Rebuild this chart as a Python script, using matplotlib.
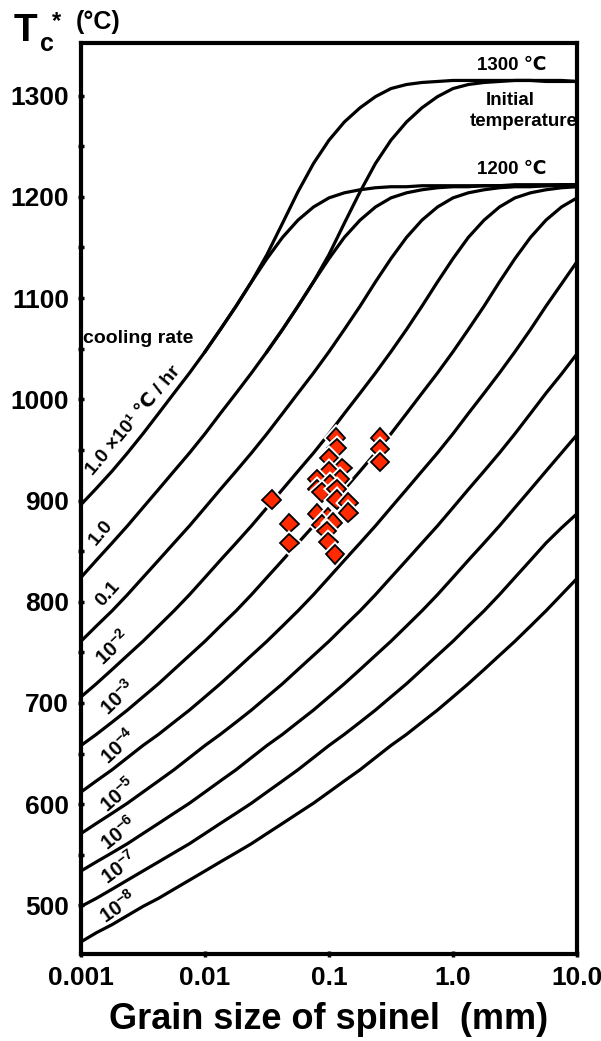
import matplotlib.pyplot as plt
from matplotlib import patheffects
from matplotlib.ticker import NullLocator

# grain sizes (mm) at which each closure-temperature curve was read (1/8 decade apart)
grain = [0.001, 0.00133, 0.00178, 0.00237, 0.00316, 0.00422, 0.00562, 0.0075,
         0.01, 0.0133, 0.0178, 0.0237, 0.0316, 0.0422, 0.0562, 0.075,
         0.1, 0.133, 0.178, 0.237, 0.316, 0.422, 0.562, 0.75,
         1.0, 1.33, 1.78, 2.37, 3.16, 4.22, 5.62, 7.5, 10.0]

# initial temperature 1200 C, one curve per cooling rate (C/hr)
tc_1e1 = [896, 912, 929, 947, 966, 986, 1006, 1026, 1047, 1069,
          1092, 1116, 1139, 1160, 1177, 1190, 1199, 1204, 1207, 1209,
          1210, 1210, 1211, 1211, 1211, 1211, 1211, 1211, 1212, 1212, 1212, 1212, 1212]
tc_1e0 = [824, 841, 858, 875, 893, 911, 929, 947, 966, 986,
          1006, 1026, 1047, 1069, 1092, 1116, 1139, 1160, 1177, 1190,
          1199, 1204, 1207, 1209, 1210, 1210, 1211, 1211, 1211, 1211, 1211, 1212, 1212]
tc_1em1 = [761, 776, 791, 807, 824, 841, 858, 875, 893, 911,
           929, 947, 966, 986, 1006, 1026, 1047, 1069, 1092, 1116,
           1139, 1160, 1177, 1190, 1199, 1204, 1207, 1209, 1210, 1210, 1211, 1211, 1212]
tc_1em2 = [706, 719, 733, 747, 761, 776, 791, 807, 824, 841,
           858, 875, 893, 911, 929, 947, 966, 986, 1006, 1026,
           1047, 1069, 1092, 1116, 1139, 1160, 1177, 1190, 1199, 1204, 1207, 1209, 1210]
tc_1em3 = [658, 669, 681, 693, 706, 719, 733, 747, 761, 776,
           791, 807, 824, 841, 858, 875, 893, 911, 929, 947,
           966, 986, 1006, 1026, 1047, 1069, 1092, 1116, 1139, 1160, 1177, 1190, 1199]
tc_1em4 = [612, 623, 634, 646, 658, 669, 681, 693, 706, 719,
           733, 747, 761, 776, 791, 807, 824, 841, 858, 875,
           893, 911, 929, 947, 966, 986, 1006, 1026, 1047, 1069, 1092, 1114, 1136]
tc_1em5 = [571, 581, 591, 601, 612, 623, 634, 646, 658, 669,
           681, 693, 706, 719, 733, 747, 761, 776, 791, 807,
           824, 841, 858, 875, 893, 911, 929, 947, 966, 986, 1006, 1025, 1045]
tc_1em6 = [534, 543, 552, 561, 571, 581, 591, 601, 612, 623,
           634, 646, 658, 669, 681, 693, 706, 719, 733, 747,
           761, 776, 791, 807, 824, 841, 858, 875, 893, 911, 929, 947, 965]
tc_1em7 = [499, 507, 516, 525, 534, 543, 552, 561, 571, 581,
           591, 601, 612, 623, 634, 646, 658, 669, 681, 693,
           706, 719, 733, 747, 761, 776, 791, 807, 824, 841, 858, 873, 887]
tc_1em8 = [464, 473, 481, 490, 499, 507, 516, 525, 534, 543,
           552, 561, 571, 581, 591, 601, 612, 623, 634, 646,
           658, 669, 681, 693, 706, 719, 733, 747, 761, 776, 791, 807, 823]

# initial temperature 1300 C (only the two fastest rates leave the 1200 curves)
grain_hot1 = grain[8:]
tc_hot_1e1 = [1047, 1069, 1092, 1116, 1143, 1174, 1205, 1233, 1256, 1274,
              1288, 1299, 1307, 1311, 1313, 1314, 1315, 1315, 1315, 1315,
              1315, 1315, 1314, 1314, 1314]
grain_hot2 = grain[12:]
tc_hot_1e0 = [1047, 1069, 1092, 1116, 1143, 1174, 1205, 1233, 1256, 1274,
              1288, 1299, 1307, 1311, 1313, 1314, 1315, 1315, 1315, 1315, 1314]

# spinel samples
sample_size = [0.114, 0.115, 0.100, 0.128, 0.100, 0.080, 0.123, 0.102, 0.080, 0.087,
               0.115, 0.115, 0.143, 0.0345, 0.143, 0.080, 0.098, 0.087, 0.108, 0.048,
               0.096, 0.048, 0.099, 0.112, 0.258, 0.258, 0.258]
sample_tc = [962, 952, 942, 932, 929, 921, 921, 916, 911, 908,
             911, 901, 898, 901, 888, 887, 883, 876, 878, 877,
             870, 858, 859, 847, 962, 951, 938]

x_ticks = [0.001, 0.01, 0.1, 1.0, 10.0]
x_ticklabels = ['0.001', '0.01', '0.1', '1.0', '10.0']
y_ticks = [500, 600, 700, 800, 900, 1000, 1100, 1200, 1300]

plt.rcParams['font.family'] = ['Liberation Sans', 'DejaVu Sans']
plt.rcParams['font.weight'] = 'bold'
plt.rcParams['mathtext.fontset'] = 'custom'
plt.rcParams['mathtext.rm'] = 'Liberation Sans:bold'
plt.rcParams['mathtext.bf'] = 'Liberation Sans:bold'
plt.rcParams['mathtext.it'] = 'Liberation Sans:bold'

W, H = 601, 1041
fig = plt.figure(figsize=(W / 100, H / 100), dpi=100)
ax = fig.add_axes([81 / W, 1 - 954 / H, 496 / W, 911 / H])

curves = [tc_1e1, tc_1e0, tc_1em1, tc_1em2, tc_1em3, tc_1em4,
          tc_1em5, tc_1em6, tc_1em7, tc_1em8]
for tc in curves:
    ax.plot(grain, tc, color='black', lw=2.3)
ax.plot(grain_hot1, tc_hot_1e1, color='black', lw=2.3)
ax.plot(grain_hot2, tc_hot_1e0, color='black', lw=2.3)

ax.plot(sample_size, sample_tc, 'D', ls='none', ms=9.5, mfc='#ff2a00',
        mec='black', mew=1.3,
        path_effects=[patheffects.withStroke(linewidth=4, foreground='white')])

ax.set_xscale('log')
ax.set_xlim(0.001, 10)
ax.set_ylim(452, 1352)
ax.set_xticks(x_ticks)
ax.set_xticklabels(x_ticklabels)
ax.xaxis.set_minor_locator(NullLocator())
ax.set_yticks(y_ticks)
ax.set_yticks([v + 50 for v in y_ticks[:-1]], minor=True)
ax.tick_params(which='both', direction='inout', width=2.5, labelsize=19, pad=6)
ax.tick_params(which='major', length=5)
ax.tick_params(which='minor', length=4)
for s in ax.spines.values():
    s.set_linewidth(3)

ax.set_xlabel('Grain size of spinel  (mm)', fontsize=26, fontweight='bold', labelpad=9)


def ftext(px, py, s, **kw):
    fig.text(px / W, 1 - py / H, s, **kw)


# y-axis title
ftext(14, 41, 'T', fontsize=28, ha='left', va='baseline')
ftext(40, 51, 'c', fontsize=18, ha='left', va='baseline')
ftext(52, 28, '*', fontsize=17, ha='left', va='baseline')
ftext(76, 29, '(°C)', fontsize=18, ha='left', va='baseline')

# initial temperature notes
ftext(512, 66, '1300 ℃', fontsize=13.5, ha='center', va='center')
ftext(510, 100, 'Initial', fontsize=13.5, ha='center', va='center')
ftext(524, 121, 'temperature', fontsize=13.5, ha='center', va='center')
ftext(512, 169, '1200 ℃', fontsize=13.5, ha='center', va='center')

# cooling rate labels along the curves
ftext(83, 339, 'cooling rate', fontsize=14, ha='left', va='center')
ftext(134, 421, '1.0 ×10¹ ℃ / hr', fontsize=14, ha='center', va='center', rotation=50)
ftext(101, 533, '1.0', fontsize=14, ha='center', va='center', rotation=50)
ftext(108, 594, '0.1', fontsize=14, ha='center', va='center', rotation=48)
rate_labels = [r'$10^{-2}$', r'$10^{-3}$', r'$10^{-4}$', r'$10^{-5}$',
               r'$10^{-6}$', r'$10^{-7}$', r'$10^{-8}$']
label_x = [113, 118, 119, 118, 119, 119, 118]
label_y = [648, 697, 746, 795, 833, 868, 907]
label_rot = [44, 44, 43, 41, 39, 37, 35]
for s, px, py, rot in zip(rate_labels, label_x, label_y, label_rot):
    ftext(px, py, s, fontsize=14.5, ha='center', va='center', rotation=rot)

fig.savefig('out.png', dpi=100)
